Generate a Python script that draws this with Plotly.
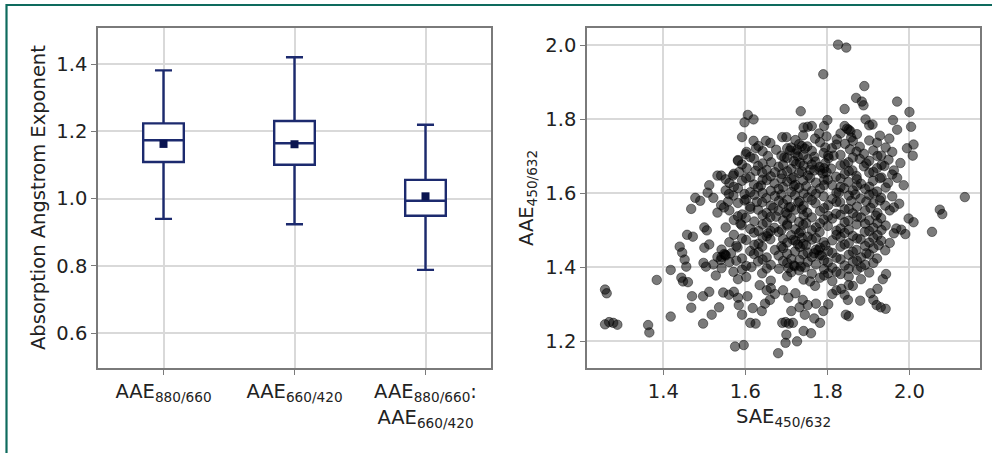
import plotly.graph_objects as go

# ---------------- Box plot data (left panel) ----------------
box_labels = ["AAE<sub>880/660</sub>", "AAE<sub>660/420</sub>",
              "AAE<sub>880/660</sub>:<br>AAE<sub>660/420</sub>"]
box_pos = [1, 2, 3]
box_upper = [1.382, 1.421, 1.220]
box_q3 = [1.224, 1.231, 1.056]
box_median = [1.174, 1.165, 0.994]
box_mean = [1.163, 1.162, 1.007]
box_q1 = [1.109, 1.101, 0.949]
box_lower = [0.940, 0.924, 0.788]

# ---------------- Scatter data (right panel): (SAE450/632, AAE450/632) ----------------
scatter_points = [
    # sparse low-SAE points
    (1.258, 1.340), (1.262, 1.330), (1.258, 1.246), (1.268, 1.252), (1.278, 1.250), (1.288, 1.245),
    (1.363, 1.244), (1.366, 1.224), (1.384, 1.366), (1.418, 1.393), (1.418, 1.267),
    # left flank
    (1.440, 1.456), (1.446, 1.440), (1.458, 1.488), (1.472, 1.483), (1.452, 1.421), (1.456, 1.402),
    (1.448, 1.362), (1.460, 1.360), (1.444, 1.372), (1.470, 1.322), (1.468, 1.291), (1.497, 1.322),
    (1.497, 1.248), (1.512, 1.334), (1.518, 1.272), (1.536, 1.292), (1.546, 1.332), (1.560, 1.326),
    (1.572, 1.334), (1.582, 1.318), (1.584, 1.298), (1.592, 1.272), (1.612, 1.250), (1.575, 1.186),
    (1.596, 1.190),
    (1.468, 1.558), (1.478, 1.588), (1.490, 1.580), (1.500, 1.508), (1.506, 1.500), (1.512, 1.622),
    (1.508, 1.602), (1.500, 1.453), (1.512, 1.462), (1.498, 1.412), (1.504, 1.402), (1.528, 1.378),
    (1.540, 1.420), (1.552, 1.432), (1.532, 1.648), (1.548, 1.562), (1.560, 1.598), (1.570, 1.648),
    (1.582, 1.690), (1.592, 1.752), (1.598, 1.792), (1.606, 1.812), (1.620, 1.800), (1.620, 1.742),
    (1.626, 1.722), (1.650, 1.742), (1.603, 1.712),
    # lower middle
    (1.680, 1.168), (1.698, 1.196), (1.700, 1.218), (1.726, 1.200), (1.742, 1.228), (1.760, 1.222),
    (1.768, 1.262), (1.782, 1.250), (1.790, 1.282), (1.772, 1.302), (1.802, 1.300), (1.812, 1.328),
    (1.822, 1.338), (1.834, 1.342), (1.842, 1.326), (1.845, 1.272), (1.852, 1.268), (1.850, 1.312),
    (1.862, 1.350), (1.880, 1.310), (1.905, 1.330), (1.912, 1.312), (1.920, 1.298), (1.930, 1.292),
    (1.942, 1.288), (1.935, 1.368), (1.943, 1.382), (1.922, 1.342), (1.690, 1.250), (1.698, 1.252),
    (1.706, 1.248), (1.716, 1.250), (1.648, 1.302), (1.660, 1.312), (1.640, 1.282), (1.672, 1.328),
    (1.652, 1.338), (1.662, 1.344), (1.692, 1.338), (1.722, 1.330), (1.740, 1.312), (1.752, 1.298),
    (1.732, 1.292), (1.758, 1.362), (1.770, 1.350), (1.792, 1.378), (1.802, 1.384), (1.832, 1.382),
    (1.852, 1.352), (1.625, 1.248), (1.618, 1.290), (1.605, 1.322), (1.635, 1.352), (1.712, 1.282),
    (1.705, 1.318), (1.745, 1.272),
    # upper sparse
    (1.735, 1.822), (1.790, 1.922), (1.826, 2.002), (1.846, 1.994), (1.842, 1.828), (1.870, 1.858),
    (1.884, 1.848), (1.890, 1.890), (1.888, 1.838), (1.893, 1.800), (1.902, 1.784), (1.910, 1.786),
    (1.970, 1.848), (1.960, 1.798), (1.970, 1.772), (2.000, 1.820), (2.004, 1.780), (2.010, 1.732),
    (2.008, 1.702), (1.994, 1.722), (1.978, 1.682), (1.962, 1.662), (1.970, 1.642), (1.986, 1.622),
    (1.962, 1.562), (1.975, 1.572), (1.998, 1.532), (2.010, 1.522), (1.990, 1.490), (1.980, 1.502),
    (2.055, 1.496), (2.074, 1.556), (2.080, 1.544), (2.135, 1.590), (1.800, 1.798), (1.792, 1.782),
    (1.780, 1.762), (1.762, 1.782), (1.752, 1.780), (1.742, 1.778), (1.852, 1.772), (1.842, 1.782),
    (1.862, 1.742), (1.872, 1.760), (1.802, 1.702), (1.822, 1.732), (1.832, 1.762), (1.690, 1.752),
    (1.702, 1.722),
    # dense core
    (1.700, 1.752), (1.722, 1.744), (1.741, 1.757), (1.770, 1.748), (1.798, 1.754), (1.823, 1.746),
    (1.858, 1.751), (1.902, 1.743), (1.928, 1.756), (1.951, 1.748),
    (1.632, 1.728), (1.661, 1.736), (1.712, 1.724), (1.731, 1.733), (1.751, 1.727), (1.782, 1.738),
    (1.811, 1.722), (1.843, 1.734), (1.879, 1.726), (1.921, 1.737), (1.942, 1.724),
    (1.675, 1.718), (1.745, 1.721), (1.795, 1.724), (1.855, 1.719),
    (1.601, 1.706), (1.642, 1.714), (1.688, 1.702), (1.709, 1.716), (1.722, 1.708), (1.741, 1.703),
    (1.762, 1.715), (1.791, 1.709), (1.832, 1.704), (1.871, 1.713), (1.889, 1.707), (1.912, 1.716),
    (1.931, 1.702), (1.958, 1.712),
    (1.612, 1.698), (1.655, 1.701), (1.695, 1.697), (1.728, 1.700), (1.768, 1.699), (1.815, 1.702),
    (1.862, 1.697), (1.922, 1.701),
    (1.582, 1.688), (1.621, 1.694), (1.663, 1.684), (1.702, 1.696), (1.718, 1.687), (1.733, 1.683),
    (1.752, 1.692), (1.771, 1.686), (1.803, 1.695), (1.851, 1.684), (1.879, 1.693), (1.902, 1.688),
    (1.949, 1.691),
    (1.592, 1.678), (1.642, 1.681), (1.692, 1.677), (1.724, 1.680), (1.762, 1.678), (1.795, 1.682),
    (1.842, 1.679), (1.895, 1.681), (1.932, 1.677),
    (1.603, 1.668), (1.631, 1.674), (1.652, 1.663), (1.681, 1.672), (1.712, 1.666), (1.742, 1.675),
    (1.758, 1.664), (1.781, 1.671), (1.809, 1.667), (1.832, 1.676), (1.861, 1.662), (1.889, 1.673),
    (1.921, 1.668), (1.939, 1.674),
    (1.585, 1.658), (1.625, 1.661), (1.672, 1.657), (1.702, 1.660), (1.738, 1.659), (1.768, 1.662),
    (1.798, 1.657), (1.852, 1.660), (1.912, 1.658),
    (1.541, 1.648), (1.572, 1.653), (1.612, 1.644), (1.641, 1.656), (1.662, 1.646), (1.689, 1.652),
    (1.718, 1.643), (1.731, 1.655), (1.752, 1.648), (1.789, 1.654), (1.821, 1.645), (1.842, 1.652),
    (1.871, 1.647), (1.902, 1.656), (1.932, 1.643), (1.958, 1.651),
    (1.552, 1.638), (1.602, 1.641), (1.642, 1.637), (1.688, 1.640), (1.712, 1.639), (1.758, 1.642),
    (1.792, 1.637), (1.832, 1.640), (1.872, 1.638), (1.928, 1.641),
    (1.561, 1.628), (1.592, 1.634), (1.621, 1.624), (1.652, 1.636), (1.671, 1.627), (1.702, 1.632),
    (1.722, 1.623), (1.741, 1.635), (1.772, 1.629), (1.801, 1.637), (1.812, 1.622), (1.851, 1.631),
    (1.882, 1.626), (1.911, 1.634), (1.948, 1.628),
    (1.572, 1.618), (1.638, 1.621), (1.692, 1.617), (1.718, 1.620), (1.748, 1.619), (1.792, 1.622),
    (1.832, 1.617), (1.872, 1.620), (1.902, 1.618),
    (1.552, 1.608), (1.582, 1.614), (1.612, 1.603), (1.631, 1.616), (1.662, 1.607), (1.681, 1.612),
    (1.712, 1.604), (1.731, 1.615), (1.762, 1.606), (1.782, 1.613), (1.822, 1.602), (1.841, 1.614),
    (1.862, 1.608), (1.892, 1.612), (1.921, 1.605), (1.942, 1.616),
    (1.598, 1.598), (1.642, 1.601), (1.688, 1.597), (1.742, 1.600), (1.772, 1.599), (1.828, 1.602),
    (1.868, 1.597), (1.912, 1.600),
    (1.522, 1.588), (1.571, 1.594), (1.602, 1.584), (1.622, 1.596), (1.651, 1.587), (1.672, 1.593),
    (1.702, 1.583), (1.721, 1.595), (1.752, 1.589), (1.791, 1.592), (1.812, 1.585), (1.852, 1.594),
    (1.881, 1.586), (1.902, 1.596), (1.931, 1.588), (1.958, 1.592),
    (1.558, 1.578), (1.598, 1.581), (1.628, 1.577), (1.682, 1.580), (1.732, 1.579), (1.762, 1.582),
    (1.822, 1.577), (1.858, 1.580), (1.895, 1.578), (1.928, 1.581),
    (1.541, 1.568), (1.582, 1.574), (1.612, 1.564), (1.641, 1.576), (1.662, 1.567), (1.692, 1.572),
    (1.711, 1.563), (1.729, 1.575), (1.742, 1.566), (1.771, 1.573), (1.802, 1.568), (1.831, 1.576),
    (1.872, 1.564), (1.912, 1.573), (1.941, 1.567),
    (1.612, 1.558), (1.668, 1.561), (1.738, 1.557), (1.792, 1.560), (1.852, 1.558), (1.905, 1.561),
    (1.532, 1.548), (1.561, 1.554), (1.592, 1.543), (1.631, 1.556), (1.652, 1.547), (1.681, 1.553),
    (1.702, 1.544), (1.722, 1.556), (1.751, 1.548), (1.782, 1.552), (1.821, 1.545), (1.842, 1.557),
    (1.862, 1.546), (1.892, 1.553), (1.922, 1.547), (1.952, 1.554),
    (1.582, 1.538), (1.642, 1.541), (1.675, 1.537), (1.742, 1.540), (1.802, 1.539), (1.832, 1.542),
    (1.872, 1.537), (1.918, 1.540),
    (1.572, 1.528), (1.601, 1.534), (1.622, 1.524), (1.661, 1.536), (1.692, 1.527), (1.712, 1.533),
    (1.731, 1.523), (1.762, 1.535), (1.791, 1.529), (1.812, 1.532), (1.851, 1.526), (1.882, 1.535),
    (1.902, 1.527), (1.931, 1.533),
    (1.588, 1.518), (1.652, 1.521), (1.702, 1.517), (1.748, 1.520), (1.782, 1.519), (1.842, 1.522),
    (1.892, 1.518), (1.922, 1.520),
    (1.552, 1.508), (1.591, 1.514), (1.612, 1.504), (1.642, 1.516), (1.671, 1.507), (1.702, 1.513),
    (1.722, 1.503), (1.741, 1.515), (1.772, 1.508), (1.801, 1.512), (1.832, 1.505), (1.871, 1.516),
    (1.912, 1.507), (1.942, 1.513), (1.968, 1.505),
    (1.632, 1.498), (1.688, 1.501), (1.735, 1.497), (1.762, 1.500), (1.822, 1.499), (1.852, 1.502),
    (1.902, 1.498), (1.932, 1.501),
    (1.572, 1.488), (1.621, 1.494), (1.652, 1.484), (1.681, 1.496), (1.712, 1.487), (1.731, 1.492),
    (1.752, 1.483), (1.781, 1.495), (1.822, 1.488), (1.842, 1.493), (1.862, 1.485), (1.891, 1.496),
    (1.922, 1.487), (1.962, 1.492),
    (1.592, 1.478), (1.642, 1.481), (1.692, 1.477), (1.738, 1.480), (1.772, 1.479), (1.832, 1.482),
    (1.872, 1.478), (1.912, 1.480),
    (1.561, 1.468), (1.602, 1.474), (1.632, 1.464), (1.661, 1.476), (1.702, 1.467), (1.722, 1.472),
    (1.741, 1.463), (1.762, 1.475), (1.791, 1.468), (1.812, 1.473), (1.852, 1.465), (1.881, 1.476),
    (1.902, 1.467), (1.931, 1.472), (1.952, 1.466),
    (1.578, 1.458), (1.622, 1.461), (1.688, 1.457), (1.748, 1.460), (1.795, 1.459), (1.842, 1.462),
    (1.892, 1.458), (1.925, 1.460),
    (1.542, 1.448), (1.581, 1.454), (1.612, 1.444), (1.641, 1.456), (1.672, 1.447), (1.692, 1.452),
    (1.721, 1.443), (1.733, 1.455), (1.772, 1.448), (1.782, 1.453), (1.802, 1.444), (1.832, 1.456),
    (1.871, 1.447), (1.912, 1.452), (1.941, 1.446),
    (1.565, 1.438), (1.632, 1.441), (1.702, 1.437), (1.752, 1.440), (1.812, 1.439), (1.862, 1.442),
    (1.895, 1.438),
    (1.532, 1.428), (1.551, 1.434), (1.592, 1.424), (1.621, 1.436), (1.652, 1.427), (1.681, 1.432),
    (1.712, 1.423), (1.741, 1.435), (1.762, 1.428), (1.781, 1.433), (1.822, 1.426), (1.852, 1.434),
    (1.882, 1.427), (1.902, 1.435), (1.921, 1.424),
    (1.578, 1.418), (1.642, 1.421), (1.692, 1.417), (1.732, 1.420), (1.792, 1.419), (1.832, 1.422),
    (1.872, 1.418),
    (1.522, 1.408), (1.561, 1.414), (1.602, 1.404), (1.631, 1.416), (1.662, 1.407), (1.702, 1.412),
    (1.721, 1.403), (1.752, 1.415), (1.772, 1.408), (1.801, 1.413), (1.842, 1.405), (1.862, 1.416),
    (1.892, 1.407), (1.912, 1.412),
    (1.542, 1.398), (1.615, 1.401), (1.652, 1.397), (1.745, 1.400), (1.812, 1.399), (1.852, 1.396),
    (1.882, 1.401),
    (1.571, 1.388), (1.592, 1.394), (1.641, 1.384), (1.682, 1.396), (1.712, 1.387), (1.731, 1.392),
    (1.762, 1.383), (1.792, 1.395), (1.822, 1.388), (1.872, 1.393), (1.902, 1.386),
    (1.582, 1.368), (1.602, 1.374), (1.662, 1.364), (1.702, 1.376), (1.742, 1.367), (1.782, 1.372),
    (1.812, 1.363), (1.852, 1.375), (1.882, 1.368),
    # darker clusters
    (1.705, 1.398), (1.718, 1.405), (1.735, 1.402), (1.768, 1.438), (1.778, 1.446), (1.786, 1.432),
    (1.728, 1.462), (1.716, 1.474), (1.698, 1.548), (1.706, 1.562), (1.726, 1.718), (1.738, 1.728),
    (1.782, 1.662), (1.792, 1.668), (1.848, 1.775), (1.856, 1.768), (1.655, 1.492), (1.662, 1.498),
    (1.542, 1.428), (1.548, 1.436),
]
sae_450_632 = [p[0] for p in scatter_points]
aae_450_632 = [p[1] for p in scatter_points]

# ---------------- Figure ----------------
W, H = 992, 453
NAVY = "#1c2a6e"
FONT = "DejaVu Sans"
TXT = "#222222"
FS = 19.5

fig = go.Figure()

fig.add_trace(go.Box(
    x=box_pos, q1=box_q1, median=box_median, q3=box_q3,
    lowerfence=box_lower, upperfence=box_upper,
    boxpoints=False, fillcolor="white", width=0.31, whiskerwidth=0.42,
    line=dict(color=NAVY, width=2.4), xaxis="x", yaxis="y", showlegend=False,
    hoverinfo="skip",
))
fig.add_trace(go.Scatter(
    x=box_pos, y=box_mean, mode="markers",
    marker=dict(symbol="square", size=8, color="#0a1450"),
    xaxis="x", yaxis="y", showlegend=False,
))
fig.add_trace(go.Scatter(
    x=sae_450_632, y=aae_450_632, mode="markers",
    marker=dict(size=9.5, color="rgba(0,0,0,0.52)",
                line=dict(width=0.8, color="rgba(0,0,0,0.55)")),
    xaxis="x2", yaxis="y2", showlegend=False,
))

def px_x(v):
    return v / W

def px_y(v):
    return 1 - v / H

ydom = [px_y(368), px_y(28)]
axis_common = dict(
    showline=True, linecolor="#7a7a7a", linewidth=1.6, mirror=True,
    showgrid=True, gridcolor="#d9d9d9", gridwidth=1.5,
    ticks="outside", ticklen=5, tickcolor="#7a7a7a", tickwidth=1.2,
    tickfont=dict(family=FONT, size=FS, color=TXT), zeroline=False,
)

fig.update_layout(
    width=W, height=H, margin=dict(l=0, r=0, t=0, b=0),
    paper_bgcolor="white", plot_bgcolor="white",
    xaxis=dict(domain=[px_x(98), px_x(491)], range=[0.5, 3.5],
               tickvals=box_pos, ticktext=box_labels, anchor="y", **axis_common),
    yaxis=dict(domain=ydom, range=[0.496, 1.508], tickvals=[0.6, 0.8, 1.0, 1.2, 1.4],
               tickformat=".1f", anchor="x", **axis_common),
    xaxis2=dict(domain=[px_x(587), px_x(980)], range=[1.214, 2.172],
                tickvals=[1.4, 1.6, 1.8, 2.0], tickformat=".1f", anchor="y2", **axis_common),
    yaxis2=dict(domain=ydom, range=[1.128, 2.047], tickvals=[1.2, 1.4, 1.6, 1.8, 2.0],
                tickformat=".1f", anchor="x2", **axis_common),
    shapes=[
        dict(type="line", xref="paper", yref="paper", x0=px_x(6), x1=1.0,
             y0=px_y(5), y1=px_y(5), line=dict(color="#0e6b5e", width=2.2)),
        dict(type="line", xref="paper", yref="paper", x0=px_x(6.5), x1=px_x(6.5),
             y0=px_y(4), y1=0, line=dict(color="#0e6b5e", width=2.2)),
    ],
    annotations=[
        dict(text="Absorption Angstrom Exponent", xref="paper", yref="paper",
             x=px_x(38), y=px_y(198), textangle=-90, showarrow=False,
             xanchor="center", yanchor="middle",
             font=dict(family=FONT, size=FS, color=TXT)),
        dict(text="AAE<sub>450/632</sub>", xref="paper", yref="paper",
             x=px_x(527), y=px_y(198), textangle=-90, showarrow=False,
             xanchor="center", yanchor="middle",
             font=dict(family=FONT, size=FS, color=TXT)),
        dict(text="SAE<sub>450/632</sub>", xref="paper", yref="paper",
             x=px_x(783), y=px_y(417), showarrow=False,
             xanchor="center", yanchor="middle",
             font=dict(family=FONT, size=FS, color=TXT)),
    ],
)

fig.write_html("out.html")
